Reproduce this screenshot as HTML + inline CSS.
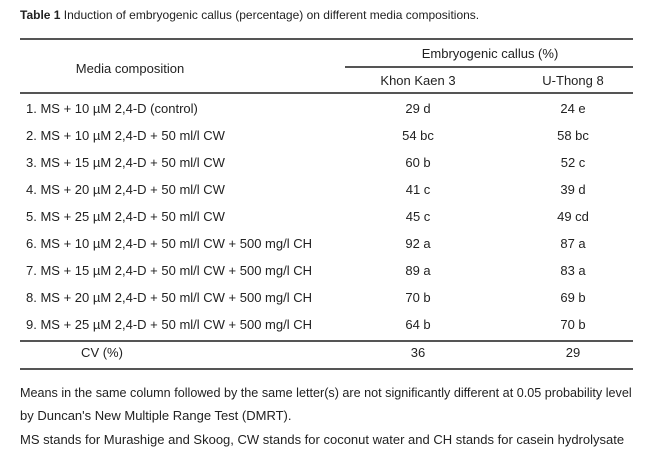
<!DOCTYPE html>
<html><head><meta charset="utf-8"><style>
html,body{margin:0;padding:0;background:#fff;width:650px;height:450px;overflow:hidden;}
body{position:relative;font-family:"Liberation Sans Narrow","Liberation Sans",sans-serif;color:#222;}
.t{position:absolute;white-space:nowrap;font-size:13px;line-height:14px;}
.c{transform:translateX(-50%);}
.r{position:absolute;left:20px;width:613px;background:#555;}
</style></head><body>
<div class="t" style="left:20px;top:8px;font-size:12px;"><b>Table 1</b> Induction of embryogenic callus (percentage) on different media compositions.</div>
<div class="r" style="top:38px;height:2px;"></div>
<div class="r" style="top:66px;left:345px;width:288px;height:2px;"></div>
<div class="r" style="top:92px;height:2px;"></div>
<div class="r" style="top:340px;height:2px;"></div>
<div class="r" style="top:368px;height:2px;"></div>
<div class="t c" style="left:490px;top:47px;">Embryogenic callus (%)</div>
<div class="t c" style="left:130px;top:62px;">Media composition</div>
<div class="t c" style="left:418px;top:74px;">Khon Kaen 3</div>
<div class="t c" style="left:573px;top:74px;">U-Thong 8</div>

<div class="t" style="left:26px;top:102px;">1. MS + 10 µM 2,4-D (control)</div><div class="t c" style="left:418px;top:102px;">29 d</div><div class="t c" style="left:573px;top:102px;">24 e</div>
<div class="t" style="left:26px;top:129px;">2. MS + 10 µM 2,4-D + 50 ml/l CW</div><div class="t c" style="left:418px;top:129px;">54 bc</div><div class="t c" style="left:573px;top:129px;">58 bc</div>
<div class="t" style="left:26px;top:156px;">3. MS + 15 µM 2,4-D + 50 ml/l CW</div><div class="t c" style="left:418px;top:156px;">60 b</div><div class="t c" style="left:573px;top:156px;">52 c</div>
<div class="t" style="left:26px;top:183px;">4. MS + 20 µM 2,4-D + 50 ml/l CW</div><div class="t c" style="left:418px;top:183px;">41 c</div><div class="t c" style="left:573px;top:183px;">39 d</div>
<div class="t" style="left:26px;top:210px;">5. MS + 25 µM 2,4-D + 50 ml/l CW</div><div class="t c" style="left:418px;top:210px;">45 c</div><div class="t c" style="left:573px;top:210px;">49 cd</div>
<div class="t" style="left:26px;top:237px;">6. MS + 10 µM 2,4-D + 50 ml/l CW + 500 mg/l CH</div><div class="t c" style="left:418px;top:237px;">92 a</div><div class="t c" style="left:573px;top:237px;">87 a</div>
<div class="t" style="left:26px;top:264px;">7. MS + 15 µM 2,4-D + 50 ml/l CW + 500 mg/l CH</div><div class="t c" style="left:418px;top:264px;">89 a</div><div class="t c" style="left:573px;top:264px;">83 a</div>
<div class="t" style="left:26px;top:291px;">8. MS + 20 µM 2,4-D + 50 ml/l CW + 500 mg/l CH</div><div class="t c" style="left:418px;top:291px;">70 b</div><div class="t c" style="left:573px;top:291px;">69 b</div>
<div class="t" style="left:26px;top:318px;">9. MS + 25 µM 2,4-D + 50 ml/l CW + 500 mg/l CH</div><div class="t c" style="left:418px;top:318px;">64 b</div><div class="t c" style="left:573px;top:318px;">70 b</div>
<div class="t c" style="left:102px;top:346px;">CV (%)</div><div class="t c" style="left:418px;top:346px;">36</div><div class="t c" style="left:573px;top:346px;">29</div>

<div class="t" style="left:20px;top:386px;transform:scaleX(0.97);transform-origin:0 0;">Means in the same column followed by the same letter(s) are not significantly different at 0.05 probability level</div>
<div class="t" style="left:20px;top:409px;">by Duncan's New Multiple Range Test (DMRT).</div>
<div class="t" style="left:20px;top:433px;">MS stands for Murashige and Skoog, CW stands for coconut water and CH stands for casein hydrolysate</div>
</body></html>
